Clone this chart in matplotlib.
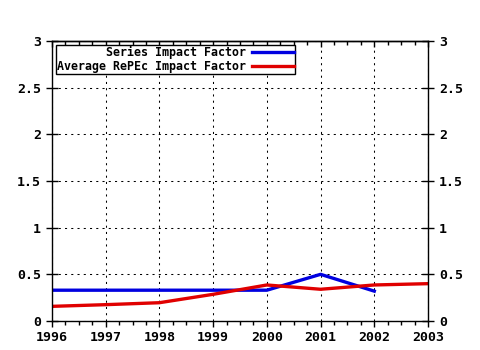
import matplotlib
matplotlib.use('Agg')
from matplotlib import pyplot as plt
from matplotlib.ticker import MultipleLocator, FormatStrFormatter

years = [1996, 1997, 1998, 1999, 2000, 2001, 2002, 2003]
series_years = [1996, 1997, 1998, 1999, 2000, 2001, 2002]
series_if = [0.33, 0.33, 0.33, 0.33, 0.33, 0.50, 0.32]
repec_if = [0.157, 0.175, 0.196, 0.286, 0.386, 0.34, 0.386, 0.40]

plt.rcParams['font.family'] = 'DejaVu Sans Mono'

fig = plt.figure(figsize=(4.8, 3.5), dpi=100)
ax = fig.add_axes([52 / 480, 29 / 350, 376 / 480, 280 / 350])

ax.plot(series_years, series_if, color='#0000e0', lw=2.4, label='Series Impact Factor')
ax.plot(years, repec_if, color='#e00000', lw=2.4, label='Average RePEc Impact Factor')

ax.set_xlim(1996, 2003)
ax.set_ylim(0, 3)
ax.xaxis.set_major_locator(MultipleLocator(1))
ax.xaxis.set_minor_locator(MultipleLocator(0.25))
ax.yaxis.set_major_locator(MultipleLocator(0.5))
ax.yaxis.set_major_formatter(FormatStrFormatter('%g'))

ax.grid(True, which='major', color='black', linestyle=(0, (2, 4)), linewidth=0.75)
for spine in ax.spines.values():
    spine.set_linewidth(1.0)

ax.tick_params(axis='x', which='both', top=False, bottom=True, direction='out',
               labelsize=9.5, pad=3, width=1)
ax.tick_params(axis='x', which='major', length=4)
ax.tick_params(axis='x', which='minor', length=3)
ax.tick_params(axis='y', which='both', left=True, right=True, labelleft=True,
               labelright=True, direction='inout', length=8, width=1,
               labelsize=9.5, pad=4)
for lab in ax.get_xticklabels() + ax.get_yticklabels():
    lab.set_fontweight('bold')

# top axis ticks point inward
top = ax.secondary_xaxis('top')
top.xaxis.set_major_locator(MultipleLocator(1))
top.xaxis.set_minor_locator(MultipleLocator(0.25))
top.tick_params(axis='x', which='both', direction='in', labeltop=False, width=1)
top.tick_params(axis='x', which='major', length=4)
top.tick_params(axis='x', which='minor', length=3)
top.spines['top'].set_linewidth(1.0)

leg = ax.legend(loc='upper left', markerfirst=False, fontsize=8.4,
                handlelength=3.6, frameon=True, fancybox=False, borderpad=0.1,
                labelspacing=0.05, handletextpad=0.5, borderaxespad=0.35,
                bbox_to_anchor=(0.0, 1.0))
leg.get_frame().set_edgecolor('black')
leg.get_frame().set_linewidth(1.0)
leg.get_frame().set_alpha(1)
for t in leg.get_texts():
    t.set_fontweight('bold')
    t.set_ha('right')
leg._legend_box.align = 'right'

fig.savefig('out.png', dpi=100)
